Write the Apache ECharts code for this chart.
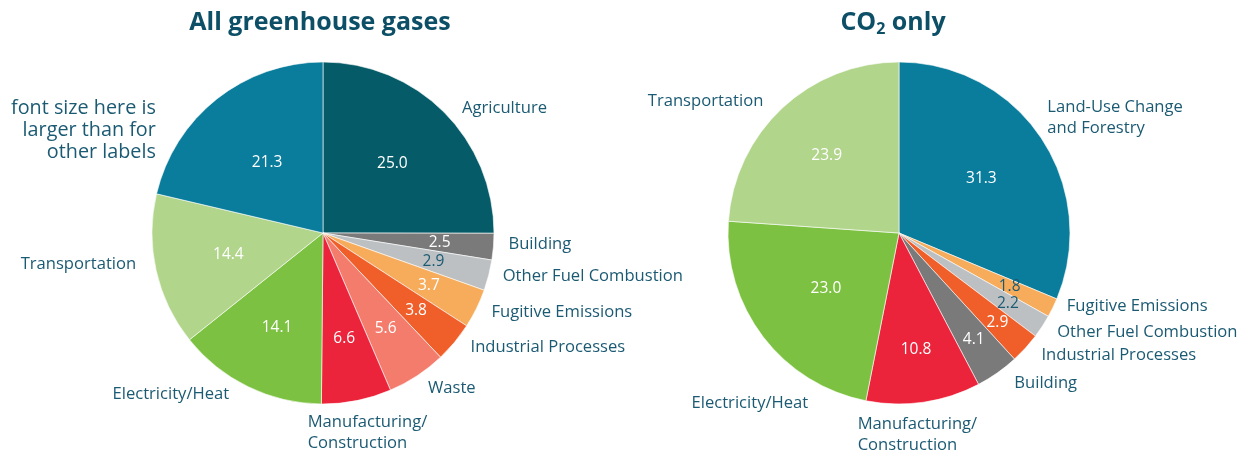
<!DOCTYPE html>
<html>
<head>
<meta charset="utf-8">
<title>Emissions by sector</title>
<script src="https://cdn.jsdelivr.net/npm/echarts@6/dist/echarts.min.js"></script>
<style>
  html, body { margin: 0; padding: 0; background: #fff; }
  #chart { width: 1252px; height: 454px; }
</style>
</head>
<body>
<div id="chart"></div>
<script>
  // all greenhouse gases, clockwise from 12 o'clock
  const ghgNames = ['Agriculture', 'Building', 'Other Fuel Combustion', 'Fugitive Emissions',
    'Industrial Processes', 'Waste', 'Manufacturing/\nConstruction', 'Electricity/Heat',
    'Transportation', 'font size here is\nlarger than for\nother labels']
  const ghgValues = [25.0, 2.5, 2.9, 3.7, 3.8, 5.6, 6.6, 14.1, 14.4, 21.3]

  // CO2 only, clockwise from 12 o'clock
  const co2Names = ['Land-Use Change\nand Forestry', 'Fugitive Emissions', 'Other Fuel Combustion',
    'Industrial Processes', 'Building', 'Manufacturing/\nConstruction', 'Electricity/Heat',
    'Transportation']
  const co2Values = [31.3, 1.8, 2.2, 2.9, 4.1, 10.8, 23.0, 23.9]

  const sectorColors = {
    'Agriculture': '#055b67',
    'Building': '#7a7a7a',
    'Other Fuel Combustion': '#bcc0c2',
    'Fugitive Emissions': '#f6ac5b',
    'Industrial Processes': '#f05f2a',
    'Waste': '#f47c6c',
    'Manufacturing/\nConstruction': '#ec243b',
    'Electricity/Heat': '#7dc142',
    'Transportation': '#b1d58b',
    'font size here is\nlarger than for\nother labels': '#0a7d9c',
    'Land-Use Change\nand Forestry': '#0a7d9c'
  }

  const textColor = '#1b5a73'
  const fontFamily = '"Open Sans", sans-serif'
  const pieRadius = 171

  // label placement tweaks (px) relative to where echarts puts them
  const ghgLabelShift = [[18, -4], [15, -2], [14, 1], [15, 4], [16, 5], [11, 12], [-49, 32], [-19, 8], [-20, -6], [-61, 31]]
  const co2LabelShift = [[6, -20], [14, -1], [15, 6], [16, 7], [17, 10], [-66, 33], [45, 66], [-19, -7]]
  // distance of the value labels from the centre
  const ghgValueRadius = [98, 117, 114, 118, 121, 114, 108, 105, 97, 90]
  const co2ValueRadius = [99, 123, 130, 133, 130, 118, 92, 106]
  // value labels drawn dark instead of white
  const ghgDarkValues = ['Other Fuel Combustion']
  const co2DarkValues = ['Fugitive Emissions', 'Other Fuel Combustion']

  function sliceSeries(center, names, values, shift) {
    return {
      type: 'pie',
      center: center,
      radius: pieRadius,
      startAngle: 90,
      clockwise: true,
      avoidLabelOverlap: false,
      silent: true,
      animation: false,
      itemStyle: { borderColor: '#fff', borderWidth: 0.6 },
      label: {
        position: 'outside',
        formatter: '{b}',
        color: textColor,
        fontFamily: fontFamily,
        fontSize: 16.6,
        lineHeight: 21,
        distanceToLabelLine: 0
      },
      labelLine: { show: false, length: 0, length2: 0 },
      labelLayout: function (params) {
        const s = shift[params.dataIndex]
        return { dx: s[0], dy: s[1], hideOverlap: false }
      },
      data: names.map(function (n, i) {
        const item = { name: n, value: values[i], itemStyle: { color: sectorColors[n] } }
        if (n.indexOf('font size') === 0) {
          item.label = { fontSize: 19.8, lineHeight: 22 }
        }
        return item
      })
    }
  }

  // transparent rings whose inside labels land at the wanted distance
  function valueSeries(center, names, values, radii, darkNames) {
    const rings = []
    radii.forEach(function (r) { if (rings.indexOf(r) < 0) rings.push(r) })
    return rings.map(function (r) {
      return {
        type: 'pie',
        center: center,
        radius: [0, 2 * (r - 3)],
        startAngle: 90,
        clockwise: true,
        avoidLabelOverlap: false,
        silent: true,
        animation: false,
        z: 5,
        itemStyle: { color: 'rgba(0,0,0,0)', borderWidth: 0 },
        labelLine: { show: false },
        labelLayout: { hideOverlap: false },
        label: {
          position: 'inside',
          fontFamily: fontFamily,
          fontSize: 15.5,
          lineHeight: 15,
          textBorderWidth: 0,
          formatter: function (p) { return p.value.toFixed(1) }
        },
        data: names.map(function (n, i) {
          return {
            name: n,
            value: values[i],
            label: {
              show: radii[i] === r,
              color: darkNames.indexOf(n) >= 0 ? textColor : '#fff'
            }
          }
        })
      }
    })
  }

  const chart = echarts.init(document.getElementById('chart'))
  const ghgCenter = [323, 233]
  const co2Center = [899, 233]

  chart.setOption({
    backgroundColor: '#fff',
    title: [
      {
        text: 'All greenhouse gases',
        left: 320,
        top: 9,
        padding: 0,
        textAlign: 'center',
        textStyle: { color: '#0c4f66', fontFamily: fontFamily, fontSize: 25, fontWeight: 'bold', lineHeight: 28 }
      },
      {
        text: '{a|CO}{s|2}{a| only}',
        left: 893,
        top: 9,
        padding: 0,
        textAlign: 'center',
        textStyle: {
          rich: {
            a: { color: '#0c4f66', fontFamily: fontFamily, fontSize: 25, fontWeight: 'bold', lineHeight: 28 },
            s: { color: '#0c4f66', fontFamily: fontFamily, fontSize: 16, fontWeight: 'bold', padding: [12, 0, 0, 0] }
          }
        }
      }
    ],
    series: [
      sliceSeries(ghgCenter, ghgNames, ghgValues, ghgLabelShift),
      sliceSeries(co2Center, co2Names, co2Values, co2LabelShift)
    ].concat(
      valueSeries(ghgCenter, ghgNames, ghgValues, ghgValueRadius, ghgDarkValues),
      valueSeries(co2Center, co2Names, co2Values, co2ValueRadius, co2DarkValues)
    )
  })
</script>
</body>
</html>
